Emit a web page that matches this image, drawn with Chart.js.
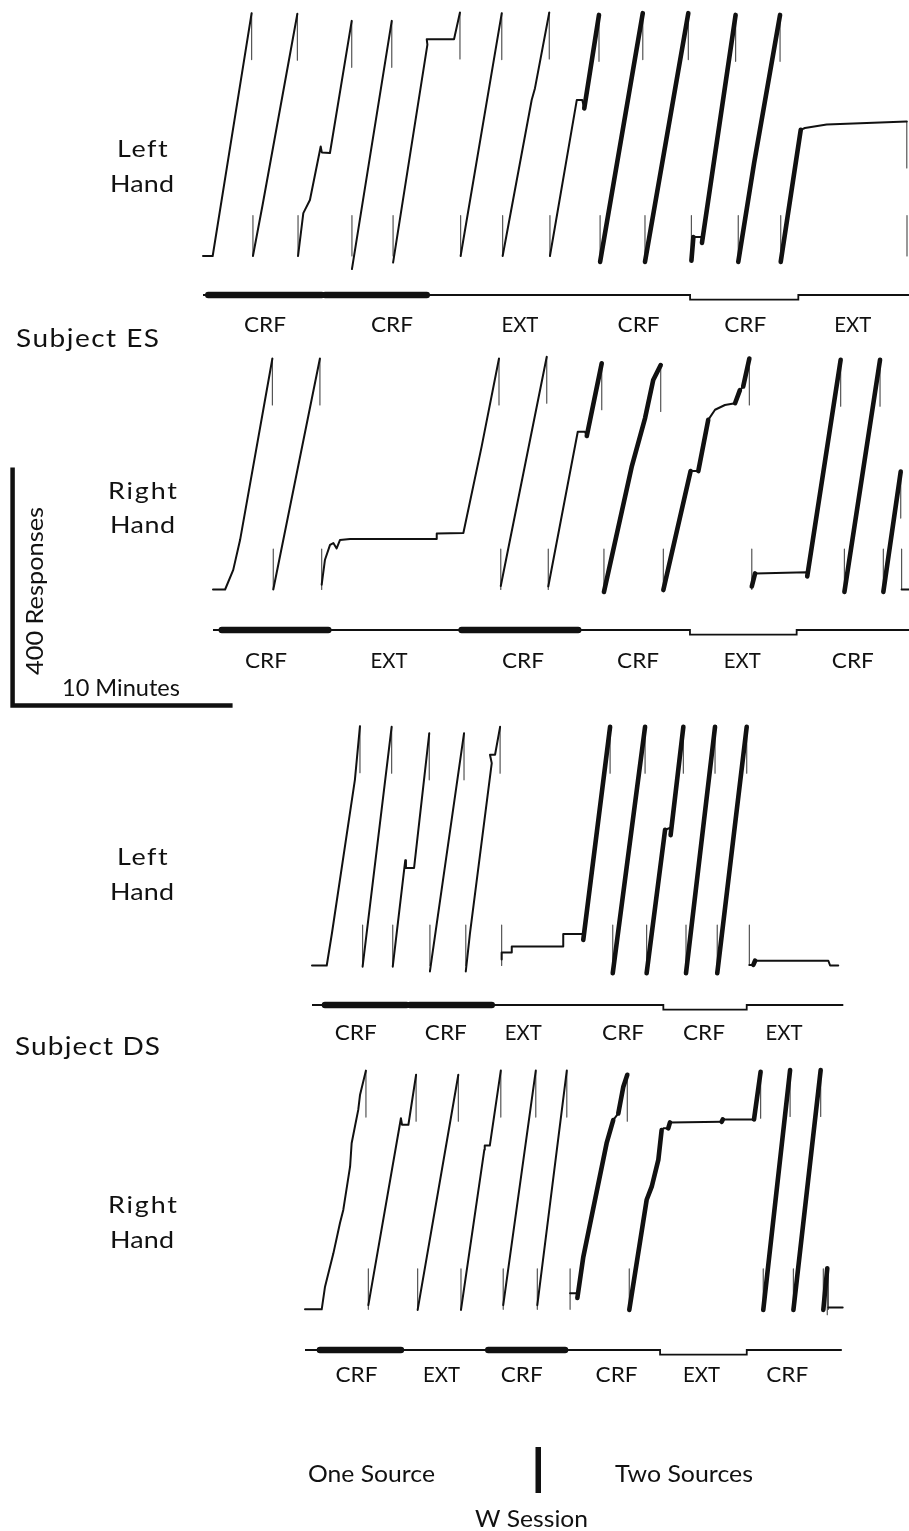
<!DOCTYPE html>
<html><head><meta charset="utf-8">
<script src="https://cdn.jsdelivr.net/npm/chart.js@4.4.1/dist/chart.umd.min.js"></script>
<style>html,body{margin:0;padding:0;background:#fff;}canvas{display:block}</style>
</head><body>
<canvas id="c" width="909" height="1531"></canvas>
<script>
// ---------- DATA (minutes, cumulative responses; null = pen reset) ----------
const esLeftRecord = [
 [0,0],[0.44,0],[1.82,318],[2.21,408], null,
 [2.27,0],[2.71,86],[4.29,407], null,
 [4.32,0],[4.56,72],[4.86,94],[5.35,184],[5.40,174],[5.77,173],[6.76,395], null,
 [6.77,-22],[8.58,395], null,
 [8.64,-11],[10.20,355],[10.17,364],[11.41,364],[11.68,409], null,
 [11.71,0],[13.58,408], null,
 [13.62,0],[14.94,262],[15.09,282],[15.74,409], null,
 [15.77,0],[16.99,262],[17.24,262],[17.33,248],[18.00,405], null,
 [18.05,-10],[19.99,408], null,
 [20.09,-10],[22.06,408], null,
 [22.20,-8],[22.29,32],[22.67,32],[22.68,22],[24.21,405], null,
 [24.33,-10],[25.05,156],[26.23,405], null,
 [26.26,-10],[27.17,212],[27.36,215],[28.35,221],[31.99,226], null,
 [32.0,0]
];
const esRightRecord = [
 [0,0],[0.55,0],[0.92,33],[1.23,83],[2.70,388], null,
 [2.74,0],[4.86,388], null,
 [4.94,8],[5.09,50],[5.32,75],[5.47,78],[5.62,69],[5.77,83],[6.23,85],[10.17,85],[10.17,94],[11.38,95],[12.21,240],[13.00,388], null,
 [13.08,6],[15.17,391], null,
 [15.24,5],[16.58,265],[16.91,265],[16.99,258],[17.67,380], null,
 [17.77,-4],[19.03,206],[19.64,288],[20.01,352],[20.35,377], null,
 [20.47,-1],[21.71,199],[22.06,199],[22.51,285],[22.82,302],[23.27,310],[23.73,313],[23.95,335],[24.10,341],[24.38,388], null,
 [24.49,5],[24.64,27],[26.99,29],[27.01,22],[28.53,386], null,
 [28.70,-4],[30.32,386], null,
 [30.47,-4],[31.26,198], null,
 [31.30,0],[31.64,0]
];
const dsLeftRecord = [
 [0,0],[0.67,0],[0.91,55],[1.95,312],[2.18,402], null,
 [2.30,-2],[3.62,401], null,
 [3.67,-2],[4.24,177],[4.27,164],[4.64,164],[5.33,390], null,
 [5.36,-10],[6.91,390], null,
 [6.99,-10],[7.18,54],[8.17,340],[8.09,354],[8.32,354],[8.55,401], null,
 [8.62,10],[8.62,22],[9.08,22],[9.08,32],[11.42,32],[11.42,53],[12.33,53],[12.33,43],[13.55,401], null,
 [13.67,-13],[15.14,401], null,
 [15.21,-13],[16.05,228],[16.27,231],[16.30,219],[16.88,401], null,
 [17.00,-13],[18.32,401], null,
 [18.42,-13],[19.76,401], null,
 [19.88,1],[20.06,1],[20.14,8],[23.47,8],[23.55,0],[23.92,0]
];
const dsRightRecord = [
 [0,0],[0.76,0],[0.91,38],[1.29,94],[1.59,145],[1.74,167],[2.05,240],[2.12,279],[2.27,307],[2.42,335],[2.50,360],[2.77,401], null,
 [2.88,7],[4.36,321],[4.41,310],[4.70,310],[5.05,394], null,
 [5.12,-1],[6.97,394], null,
 [7.09,-1],[8.15,268],[8.17,275],[8.40,275],[8.90,401], null,
 [9.01,7],[10.49,401], null,
 [10.56,7],[11.90,401], null,
 [12.05,27],[12.38,27],[12.38,19],[12.65,88],[13.71,279],[14.01,318],[14.24,329],[14.47,374],[14.65,394], null,
 [14.74,-1],[15.53,184],[15.76,206],[16.06,251],[16.21,301],[16.29,304],[16.51,304],[16.59,314],[18.94,315],[18.99,319],[20.41,319],[20.71,399], null,
 [20.83,-1],[22.05,402], null,
 [22.20,-1],[23.44,402], null,
 [23.56,-1],[23.74,69], null,
 [23.79,3],[24.44,3]
];
// schedule components
const esLeftPhase  = ['CRF','CRF','EXT','CRF','CRF','EXT'];
const esLeftStart  = [0.24, 5.55, 10.17, 17.82, 22.14, 27.06];
const esLeftEnd    = [5.40, 10.17, 17.82, 22.14, 27.06, 32.09];
const esRightPhase = ['CRF','EXT','CRF','CRF','EXT','CRF'];
const esRightStart = [0.40, 5.24, 11.30, 16.60, 21.68, 26.53];
const esRightEnd   = [5.24, 11.30, 16.60, 21.68, 26.53, 31.64];
const dsLeftPhase  = ['CRF','CRF','EXT','CRF','CRF','EXT'];
const dsLeftStart  = [0.59, 4.45, 8.17, 11.95, 15.97, 19.76];
const dsLeftEnd    = [4.30, 8.17, 11.95, 15.97, 19.76, 24.15];
const dsRightPhase = ['CRF','EXT','CRF','CRF','EXT','CRF'];
const dsRightStart = [0.68, 4.36, 8.33, 11.82, 16.14, 20.08];
const dsRightEnd   = [4.36, 8.33, 11.82, 16.14, 20.08, 24.40];
const sessionSources = [1,1,1,2,2,2];
const eventPenState  = [1,1,1,1,0,1];
const scaleMinutes = 10;
const scaleResponses = 400;

// ---------- LAYOUT / STYLE ----------
const W = 909, H = 1531, PX_MIN = 22, PX_RESP = 1/1.68, EV_STEP = 4.6;
const panels = [
 {rec: esLeftRecord,  phase: esLeftPhase,  start: esLeftStart,  end: esLeftEnd,  x0: 203, base: 256,   ev: 295,  lab: 331.5, thickFrom: 17.2, nudge: [0, 16, 9, -4, 1, -1]},
 {rec: esRightRecord, phase: esRightPhase, start: esRightStart, end: esRightEnd, x0: 213, base: 589.5, ev: 630,  lab: 668,   thickFrom: 16.9, nudge: [-9, -6, 3, 4, -1, 0]},
 {rec: dsLeftRecord,  phase: dsLeftPhase,  start: dsLeftStart,  end: dsLeftEnd,  x0: 312, base: 965.5, ev: 1005, lab: 1040,  thickFrom: 12.3, nudge: [-10, -5, -10, 4, -1, -11]},
 {rec: dsRightRecord, phase: dsRightPhase, start: dsRightStart, end: dsRightEnd, x0: 305, base: 1309.3,ev: 1350, lab: 1381.5,thickFrom: 12.0, nudge: [-4, -3, -5, 4, -2, -7]}
];
const RESET_TOP = 78, RESET_BOTTOM = 68;
const scaleBarAt = {t: -9.11, r: -195};
const FONT = 'Lato, "Open Sans", "DejaVu Sans", sans-serif';
const INK = '#111';

const GAP = {x: null, y: null};
const toPts = rec => rec.map(p => p ? {x: p[0], y: p[1]} : GAP);
function resetMarks(rec) {
  const out = [];
  for (let i = 0; i < rec.length; i++) {
    if (rec[i] !== null) continue;
    const a = rec[i-1], b = rec[i+1];
    out.push({x: a[0], y: a[1]}, {x: a[0], y: a[1] - RESET_TOP}, GAP,
             {x: b[0], y: RESET_BOTTOM}, {x: b[0], y: 0}, GAP);
  }
  return out;
}
function eventLine(p) {
  const pts = [{x: 0, y: eventPenState[0]}];
  p.start.forEach((s, i) => { pts.push({x: s, y: eventPenState[i]}, {x: p.end[i], y: eventPenState[i]}); });
  return pts;
}
function eventBands(p) {
  const pts = [];
  p.phase.forEach((ph, i) => {
    if (ph === 'CRF' && sessionSources[i] === 1) pts.push({x: p.start[i], y: eventPenState[i]}, {x: p.end[i], y: eventPenState[i]}, GAP);
  });
  return pts;
}

const scales = {};
const datasets = [];
panels.forEach((p, k) => {
  const n = k + 1;
  scales['x' + n] = {type: 'linear', display: false, min: -p.x0 / PX_MIN, max: (W - p.x0) / PX_MIN};
  scales['y' + n] = {type: 'linear', display: false, min: (p.base - H) / PX_RESP, max: p.base / PX_RESP};
  scales['e' + n] = {type: 'linear', display: false, min: p.ev / EV_STEP + 1 - H / EV_STEP, max: p.ev / EV_STEP + 1};
  const common = {xAxisID: 'x' + n, pointRadius: 0, borderColor: INK, fill: false, tension: 0,
                  spanGaps: false, borderJoinStyle: 'round', borderCapStyle: 'round'};
  datasets.push(Object.assign({}, common, {
    label: 'record ' + n, yAxisID: 'y' + n, data: toPts(p.rec), borderWidth: 2,
    segment: {borderWidth: c => {
      const a = c.p0.parsed, b = c.p1.parsed;
      const slope = (b.y - a.y) / Math.max(b.x - a.x, 1e-6);
      return (a.x >= p.thickFrom && slope > 60) ? 4.6 : 2;
    }}
  }));
  datasets.push(Object.assign({}, common, {
    label: 'resets ' + n, yAxisID: 'y' + n, data: resetMarks(p.rec), borderWidth: 1.2, borderColor: '#555', borderCapStyle: 'butt'
  }));
  datasets.push(Object.assign({}, common, {
    label: 'event ' + n, yAxisID: 'e' + n, data: eventLine(p), borderWidth: 1.8, borderJoinStyle: 'miter', borderCapStyle: 'butt'
  }));
  datasets.push(Object.assign({}, common, {
    label: 'bands ' + n, yAxisID: 'e' + n, data: eventBands(p), borderWidth: 6.5, borderCapStyle: 'round'
  }));
});
datasets.push({
  label: 'scale bar', xAxisID: 'x2', yAxisID: 'y2', pointRadius: 0, borderColor: INK, borderWidth: 4.5,
  borderJoinStyle: 'miter', borderCapStyle: 'butt', tension: 0,
  data: [{x: scaleBarAt.t, y: scaleBarAt.r + scaleResponses}, {x: scaleBarAt.t, y: scaleBarAt.r}, {x: scaleBarAt.t + scaleMinutes, y: scaleBarAt.r}]
});

// draw text fitted to a measured width: mild horizontal stretch, remainder as letter spacing
function fitText(ctx, text, left, baseline, width, size) {
  ctx.font = '400 ' + size + 'px ' + FONT;
  ctx.letterSpacing = '0px';
  const w = ctx.measureText(text).width;
  const sx = Math.min(Math.max(width / w, 0.92), 1.12);
  const ls = (width / sx - w) / Math.max(text.length - 1, 1);
  ctx.save();
  ctx.translate(left, baseline);
  ctx.scale(sx, 1);
  ctx.letterSpacing = ls.toFixed(2) + 'px';
  ctx.fillText(text, 0, 0);
  ctx.restore();
  ctx.letterSpacing = '0px';
}
const texts = [
 ['Left', 117, 157, 50, 24], ['Hand', 110, 191.7, 64, 24],
 ['Subject ES', 16, 346.7, 143, 25],
 ['Right', 108, 499.3, 69, 24], ['Hand', 110, 533.3, 65, 24],
 ['10 Minutes', 62, 696, 118, 23],
 ['Left', 117, 865, 50, 24], ['Hand', 110, 900, 64, 24],
 ['Subject DS', 15, 1055, 145, 25],
 ['Right', 108, 1213.3, 69, 24], ['Hand', 110, 1248.3, 64, 24],
 ['One Source', 308, 1481.7, 127, 24], ['Two Sources', 615, 1481.7, 138, 24],
 ['W Session', 475, 1526.7, 113, 24]
];
const textPlugin = {
  id: 'texts',
  afterDraw(chart) {
    const ctx = chart.ctx;
    ctx.save();
    ctx.fillStyle = INK; ctx.textAlign = 'left'; ctx.textBaseline = 'alphabetic';
    texts.forEach(t => fitText(ctx, t[0], t[1], t[2], t[3], t[4]));
    ctx.save(); ctx.translate(43, 675); ctx.rotate(-Math.PI / 2);
    fitText(ctx, scaleResponses + ' Responses', 0, 0, 168, 23); ctx.restore();
    panels.forEach((p, k) => {
      const xs = chart.scales['x' + (k + 1)];
      p.phase.forEach((ph, i) => {
        const cx = xs.getPixelForValue((p.start[i] + p.end[i]) / 2) + p.nudge[i];
        const w = ph === 'CRF' ? 42 : 37;
        fitText(ctx, ph, cx - w / 2, p.lab, w, 22);
      });
    });
    ctx.fillRect(535.5, 1447, 5.5, 46);
    ctx.restore();
  }
};

new Chart(document.getElementById('c'), {
  type: 'line',
  data: {datasets},
  options: {
    responsive: false, animation: false, devicePixelRatio: 1, events: [],
    layout: {padding: 0},
    plugins: {legend: {display: false}, tooltip: {enabled: false}, title: {display: false}},
    scales
  },
  plugins: [textPlugin]
});
</script>
</body></html>
